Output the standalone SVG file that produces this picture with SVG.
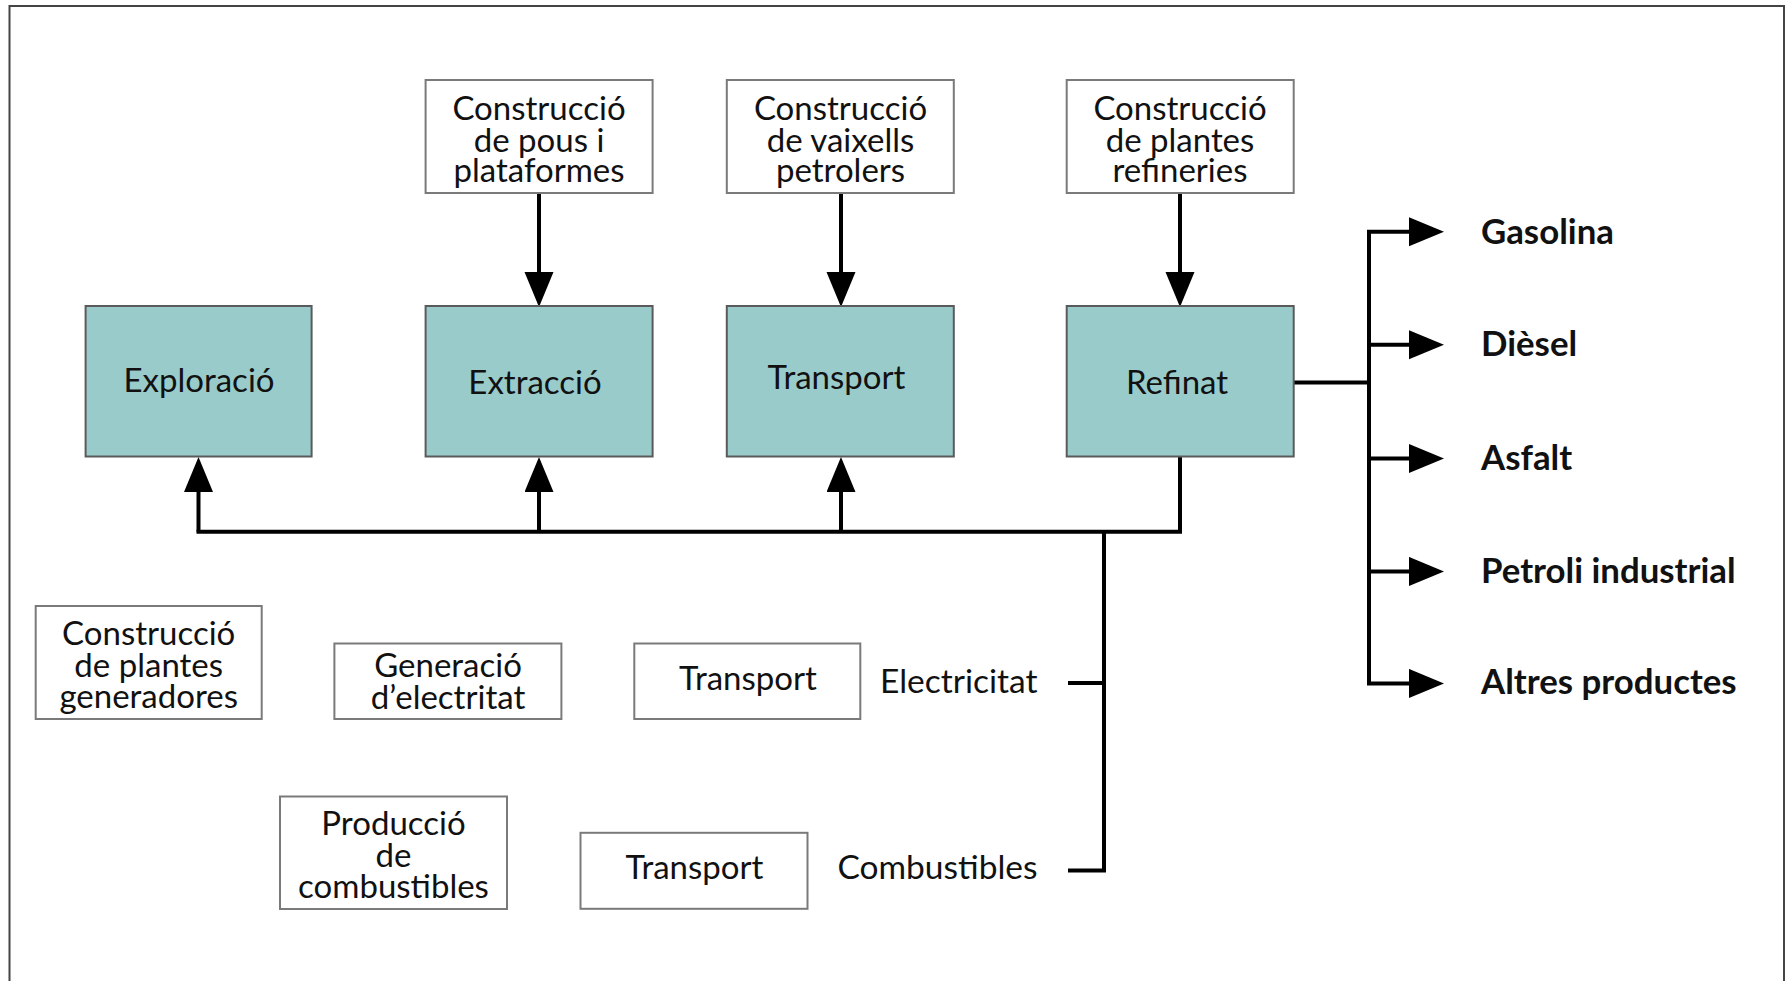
<svg xmlns="http://www.w3.org/2000/svg" width="1789" height="981" viewBox="0 0 1789 981">
<style>
.frame{fill:#fff;stroke:#444;stroke-width:2}
.wbox{fill:#fff;stroke:#7a7a7a;stroke-width:2}
.tbox{fill:#9acbcb;stroke:#5a5a5a;stroke-width:2}
.t{font-family:Lato,"Open Sans",sans-serif;font-size:33px;fill:#111;text-anchor:middle}
.l{font-family:Lato,"Open Sans",sans-serif;font-size:33.5px;fill:#111;text-anchor:end}
.b{font-family:Lato,"Open Sans",sans-serif;font-size:34.8px;font-weight:bold;fill:#111}
.c{fill:none;stroke:#000;stroke-width:4;stroke-linejoin:miter}
.a{fill:none;stroke:#000;stroke-width:4;marker-end:url(#ah)}
</style>
<defs>
<marker id="ah" markerUnits="userSpaceOnUse" markerWidth="36" markerHeight="30" refX="2" refY="14.5" orient="auto" viewBox="0 0 36 30">
<path d="M0,0 L35,14.5 L0,29 z" fill="#000"/>
</marker>
</defs>
<rect class="frame" x="9.5" y="6" width="1774.5" height="1000"/>

<g id="connectors">
<path class="a" d="M539,193 V274"/>
<path class="a" d="M841,193 V274"/>
<path class="a" d="M1180,193 V274"/>
<path class="a" d="M198.5,531.7 V490"/>
<path class="a" d="M539,531.7 V490"/>
<path class="a" d="M841,531.7 V490"/>
<path class="c" d="M196.5,531.7 H1180 V457"/>
<path class="c" d="M1104,531.7 V870.5 H1068"/>
<path class="c" d="M1068,683 H1104"/>
<path class="c" d="M1294,382.5 H1369"/>
<path class="c" d="M1369,231.7 V683.4"/>
<path class="a" d="M1367,231.7 H1411"/>
<path class="a" d="M1369,344.8 H1411"/>
<path class="a" d="M1369,458.6 H1411"/>
<path class="a" d="M1369,571.4 H1411"/>
<path class="a" d="M1367,683.4 H1411"/>
</g>

<g id="n-const-pous">
<rect class="wbox" x="425.6" y="80" width="227" height="113"/>
<text class="t" x="539" y="120">Construcció</text>
<text class="t" x="539" y="151.5">de pous i</text>
<text class="t" x="539" y="182">plataformes</text>
</g>
<g id="n-const-vaixells">
<rect class="wbox" x="726.8" y="80" width="227" height="113"/>
<text class="t" x="840.5" y="120">Construcció</text>
<text class="t" x="840.5" y="151.5">de vaixells</text>
<text class="t" x="840.5" y="182">petrolers</text>
</g>
<g id="n-const-refineries">
<rect class="wbox" x="1066.7" y="80" width="227" height="113"/>
<text class="t" x="1180" y="120">Construcció</text>
<text class="t" x="1180" y="151.5">de plantes</text>
<text class="t" x="1180" y="182">refineries</text>
</g>

<g id="n-exploracio">
<rect class="tbox" x="85.6" y="306" width="226" height="150.5"/>
<text class="t" x="199" y="391.5">Exploració</text>
</g>
<g id="n-extraccio">
<rect class="tbox" x="425.6" y="306" width="227" height="150.5"/>
<text class="t" x="535" y="394">Extracció</text>
</g>
<g id="n-transport">
<rect class="tbox" x="726.8" y="306" width="227" height="150.5"/>
<text class="t" x="836.5" y="389">Transport</text>
</g>
<g id="n-refinat">
<rect class="tbox" x="1066.7" y="306" width="227" height="150.5"/>
<text class="t" x="1177" y="394">Refinat</text>
</g>

<g id="n-gasolina"><text class="b" x="1481" y="243.8">Gasolina</text></g>
<g id="n-diesel"><text class="b" x="1481" y="355.9">Dièsel</text></g>
<g id="n-asfalt"><text class="b" x="1481" y="469.7">Asfalt</text></g>
<g id="n-petroli"><text class="b" x="1481" y="583.4">Petroli industrial</text></g>
<g id="n-altres"><text class="b" x="1481" y="693.8">Altres productes</text></g>

<g id="n-const-generadores">
<rect class="wbox" x="35.7" y="606" width="226" height="113"/>
<text class="t" x="148.7" y="645">Construcció</text>
<text class="t" x="148.7" y="676.5">de plantes</text>
<text class="t" x="148.7" y="708">generadores</text>
</g>
<g id="n-generacio">
<rect class="wbox" x="334.4" y="643.5" width="227" height="75.5"/>
<text class="t" x="448" y="677.3">Generació</text>
<text class="t" x="448" y="709">d’electritat</text>
</g>
<g id="n-transport-elec">
<rect class="wbox" x="634.3" y="643.5" width="226" height="75.5"/>
<text class="t" x="748" y="690">Transport</text>
</g>
<g id="n-electricitat"><text class="l" x="1037.5" y="693.3">Electricitat</text></g>

<g id="n-produccio">
<rect class="wbox" x="280" y="796.5" width="227" height="112.5"/>
<text class="t" x="393.5" y="835">Producció</text>
<text class="t" x="393.5" y="866.7">de</text>
<text class="t" x="393.5" y="898.3">combustibles</text>
</g>
<g id="n-transport-comb">
<rect class="wbox" x="580.5" y="832.8" width="227" height="76"/>
<text class="t" x="694.5" y="879.3">Transport</text>
</g>
<g id="n-combustibles"><text class="l" x="1037.5" y="879.3">Combustibles</text></g>
</svg>
